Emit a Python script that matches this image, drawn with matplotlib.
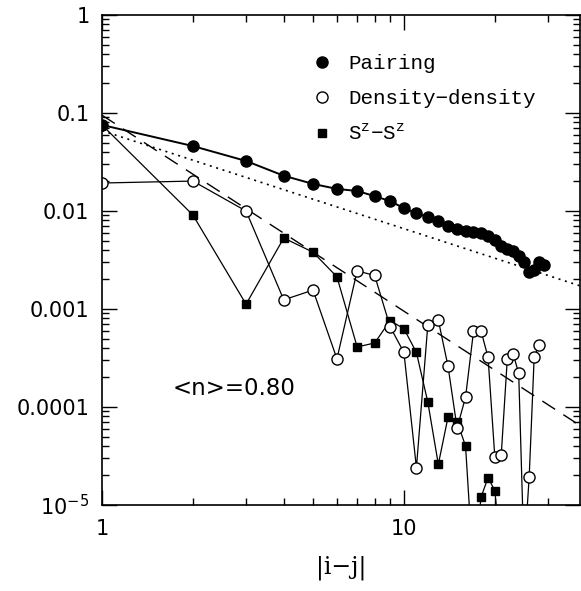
import numpy as np
import matplotlib
matplotlib.use('Agg')
import matplotlib.pyplot as plt
from matplotlib.lines import Line2D
from matplotlib.ticker import FixedLocator, FixedFormatter, NullFormatter

############################################################################## Data

# pairing correlation, |i-j| = 1..29
pair_x = np.arange(1, 30)
pair_y = [0.0755, 0.046, 0.0324, 0.0229, 0.0189, 0.0168, 0.0160, 0.0142,
          0.0126, 0.0107, 0.0095, 0.0087, 0.0079, 0.0071, 0.0066, 0.0062,
          0.0061, 0.0060, 0.0056, 0.0051, 0.0044, 0.0041, 0.0039, 0.0035,
          0.0030, 0.0024, 0.0025, 0.0030, 0.0028]

# density-density, |i-j| = 1..28 (x=25 falls below the axis)
dens_x = np.arange(1, 29)
dens_y = [0.0193, 0.0202, 0.0100, 0.00124, 0.00156, 0.00031, 0.00245,
          0.0022, 0.00066, 0.00036, 2.4e-5, 0.00069, 0.00077, 0.00026,
          6.1e-5, 0.000126, 0.00059, 0.00060, 0.00032, 3.1e-5, 3.2e-5,
          0.00031, 0.00035, 0.00022, 3e-6, 1.95e-5, 0.00032, 0.00043]

# Sz-Sz, |i-j| = 1..21 (x=17 and x=21 fall below the axis)
spin_x = np.arange(1, 22)
spin_y = [0.0755, 0.0091, 0.00112, 0.0053, 0.0038, 0.00213, 0.00041,
          0.00045, 0.00076, 0.00063, 0.00036, 0.000112, 2.6e-5, 7.9e-5,
          7.1e-5, 4.0e-5, 2e-6, 1.2e-5, 1.9e-5, 1.4e-5, 3e-6]

# reference power laws
dot_amp, dot_exp = 0.066, -1.0
dash_amp, dash_exp = 0.095, -2.0

ytick_vals = [1e-5, 1e-4, 1e-3, 1e-2, 1e-1, 1]
ytick_labels = ['10$^{\\mathsf{-5}}$', '0.0001', '0.001', '0.01', '0.1', '1']
xtick_vals = [1, 10]
xtick_labels = ['1', '10']

############################################################################## Plot

plt.rcParams['mathtext.fontset'] = 'custom'
plt.rcParams['mathtext.rm'] = 'Liberation Mono'
plt.rcParams['mathtext.sf'] = 'DejaVu Sans'

fig = plt.figure(figsize=(5.81, 5.91), dpi=100)
ax = fig.add_axes([102/581, 1 - 505/591, 478/581, 490/591])
ax.set_xscale('log')
ax.set_yscale('log')
xmax = 38.3
ax.set_xlim(1, xmax)
ax.set_ylim(1e-5, 1)

xx = np.logspace(0, np.log10(xmax), 50)
ax.plot(xx, dot_amp * xx ** dot_exp, color='black', lw=1.2,
        linestyle=(0, (1.2, 2.8)))
ax.plot(xx, dash_amp * xx ** dash_exp, color='black', lw=1.0,
        linestyle=(0, (11, 7)))

ax.plot(spin_x, spin_y, '-', color='black', lw=0.9, marker='s', ms=5.5,
        mfc='black', mec='black')
ax.plot(dens_x, dens_y, '-', color='black', lw=0.9, marker='o', ms=8,
        mfc='white', mec='black', mew=1.0)
ax.plot(pair_x, pair_y, '-', color='black', lw=1.4, marker='o', ms=8,
        mfc='black', mec='black')

# ticks
for side in ['top', 'bottom', 'left', 'right']:
    ax.spines[side].set_linewidth(1.2)
ax.tick_params(which='both', direction='in', top=True, right=True,
               width=1.0, colors='black')
ax.tick_params(which='major', length=11)
ax.tick_params(which='minor', length=5)
ax.tick_params(axis='y', which='major', pad=9, labelsize=15)
ax.tick_params(axis='x', which='major', pad=10, labelsize=15)
ax.yaxis.set_major_locator(FixedLocator(ytick_vals))
ax.yaxis.set_major_formatter(FixedFormatter(ytick_labels))
ax.xaxis.set_major_locator(FixedLocator(xtick_vals))
ax.xaxis.set_major_formatter(FixedFormatter(xtick_labels))
ax.xaxis.set_minor_formatter(NullFormatter())
ax.yaxis.set_minor_formatter(NullFormatter())

ax.set_xlabel('|i\u2212j|', family=['DejaVu Serif'], fontsize=17, labelpad=12)

ax.text(0.148, 0.237, '<n>=0.80', transform=ax.transAxes, fontsize=16.5,
        ha='left', va='center')

handles = [
    Line2D([], [], ls='none', marker='o', ms=8, mfc='black', mec='black'),
    Line2D([], [], ls='none', marker='o', ms=8, mfc='white', mec='black'),
    Line2D([], [], ls='none', marker='s', ms=5.5, mfc='black', mec='black'),
]
labels = ['Pairing', 'Density\u2212density',
          'S$^{\\mathrm{z}}$\u2212S$^{\\mathrm{z}}$']
leg = ax.legend(handles, labels, loc='upper left', bbox_to_anchor=(0.439, 0.92),
                frameon=False, handlelength=1.0, handletextpad=0.75,
                borderpad=0, borderaxespad=0, labelspacing=0.75,
                prop={'family': ['Liberation Mono', 'DejaVu Sans Mono'], 'size': 15})

fig.savefig('out.png', dpi=100)
